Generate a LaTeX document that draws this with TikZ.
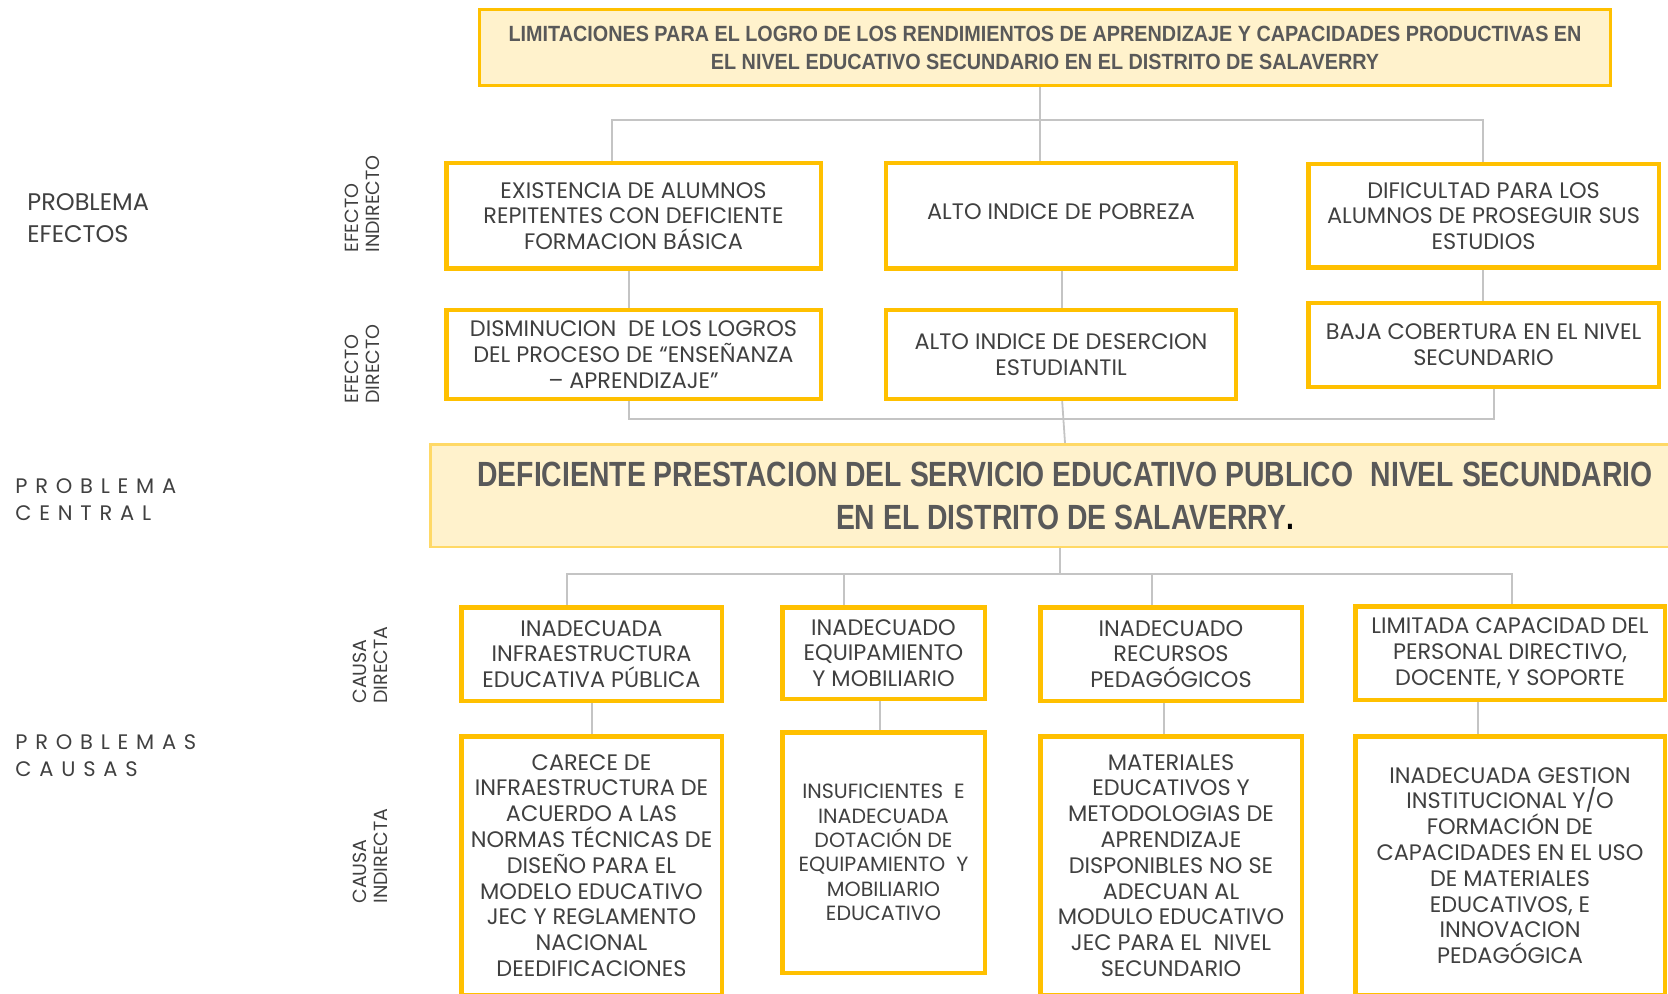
\documentclass[tikz,border=0pt]{standalone}
\usepackage{fontspec}
\setmainfont{Poppins}
\newfontfamily\gothic{Poppins}
\newfontfamily\topfont[FakeStretch=0.9]{Liberation Sans}
\newfontfamily\bigfont[FakeStretch=0.81]{Liberation Sans}
\usetikzlibrary{backgrounds}
\definecolor{ygold}{HTML}{FFC000}
\definecolor{ylight}{HTML}{FFF2CC}
\definecolor{yedge}{HTML}{FFD966}
\definecolor{lineg}{HTML}{C4C4C4}
\definecolor{txt}{HTML}{404040}
\definecolor{ttl}{HTML}{595959}
\begin{document}
\begin{tikzpicture}[x=0.5pt,y=-0.5pt,
 wh/.style n args={2}{minimum width={#1*0.5pt},minimum height={#2*0.5pt}},
 ybox/.style={draw=ygold,line width=2.25pt,fill=white,text=txt,align=center,inner sep=0pt,outer sep=0pt,font=\gothic\fontsize{11.2}{12.9}\selectfont},
 conn/.style={draw=lineg,line width=0.9pt},
 lab/.style={text=txt,align=left,inner sep=0pt,anchor=west,font=\gothic\fontsize{12}{16}\selectfont},
 spaced/.style={text=txt,align=left,inner sep=0pt,anchor=west,font=\gothic\fontsize{10.5}{13.5}\selectfont\addfontfeatures{LetterSpace=37}},
 side/.style={text=txt,align=left,inner sep=0pt,rotate=90,anchor=west,font=\gothic\fontsize{9.5}{10.5}\selectfont}
]
\useasboundingbox (0,0) rectangle (1668,994);
\clip (0,0) rectangle (1668,994);

% left labels
\node[lab] (lef) at (27,218) {PROBLEMA\\EFECTOS};
\node[spaced] (lcen) at (15,499.5) {PROBLEMA\\CENTRAL};
\node[spaced] (lcau) at (15,755.5) {PROBLEMAS\\CAUSAS};
\node[side] (sei) at (362,253) {EFECTO\\INDIRECTO};
\node[side] (sed) at (362,404) {EFECTO\\DIRECTO};
\node[side] (scd) at (370,704) {CAUSA\\DIRECTA};
\node[side] (sci) at (370,904) {CAUSA\\INDIRECTA};

% top box
\node[draw=ygold,line width=1.6pt,fill=ylight,wh={1131}{76},inner sep=0pt,align=center,text=ttl,
      font=\topfont\bfseries\fontsize{11}{14}\selectfont] (top) at (1045,47.5)
 {LIMITACIONES PARA EL LOGRO DE LOS RENDIMIENTOS DE APRENDIZAJE Y CAPACIDADES PRODUCTIVAS EN\\EL NIVEL EDUCATIVO SECUNDARIO EN EL DISTRITO DE SALAVERRY};

% effects
\node[ybox,wh={374.5}{105.5}] (e1) at (633.5,216) {EXISTENCIA DE ALUMNOS\\REPITENTES CON DEFICIENTE\\FORMACION BÁSICA};
\node[ybox,wh={350}{105.5}] (e2) at (1061,216) {ALTO INDICE DE POBREZA\\[-8.6pt]};
\node[ybox,wh={350.5}{103.5}] (e3) at (1483.5,216) {DIFICULTAD PARA LOS\\ALUMNOS DE PROSEGUIR SUS\\ESTUDIOS};
\node[ybox,wh={374.5}{88.5}] (d1) at (633.5,354.5) {DISMINUCION\ \ DE LOS LOGROS\\DEL PROCESO DE “ENSEÑANZA\\– APRENDIZAJE”};
\node[ybox,wh={350}{88.5}] (d2) at (1061,354.5) {ALTO INDICE DE DESERCION\\ESTUDIANTIL};
\node[ybox,wh={350.5}{83.5}] (d3) at (1483.5,345) {BAJA COBERTURA EN EL NIVEL\\SECUNDARIO};

% central
\node[draw=yedge,line width=1.25pt,fill=ylight,wh={1269.5}{102.5},inner sep=0pt,align=center,text=ttl,
      font=\bigfont\bfseries\fontsize{17.5}{21.5}\selectfont] (cen) at (1065,495.5)
 {DEFICIENTE PRESTACION DEL SERVICIO EDUCATIVO PUBLICO\hspace{0.5em}NIVEL SECUNDARIO\\EN EL DISTRITO DE SALAVERRY{\color{black}.}};

% causes
\node[ybox,wh={260.5}{93.5}] (c1) at (591.5,654) {INADECUADA\\INFRAESTRUCTURA\\EDUCATIVA PÚBLICA};
\node[ybox,wh={202.5}{91.5}] (c2) at (883.5,653) {INADECUADO\\EQUIPAMIENTO\\Y MOBILIARIO};
\node[ybox,wh={261.5}{93.5}] (c3) at (1171,654) {INADECUADO\\RECURSOS\\PEDAGÓGICOS};
\node[ybox,wh={309.5}{93.5}] (c4) at (1510,653) {LIMITADA CAPACIDAD DEL\\PERSONAL DIRECTIVO,\\DOCENTE, Y SOPORTE};

\node[ybox,wh={260.5}{258.5}] (i1) at (591.5,865.5) {CARECE DE\\INFRAESTRUCTURA DE\\ACUERDO A LAS\\NORMAS TÉCNICAS DE\\DISEÑO PARA EL\\MODELO EDUCATIVO\\JEC Y REGLAMENTO\\NACIONAL\\DEEDIFICACIONES};
\node[ybox,wh={202.5}{240.5},font=\gothic\fontsize{10.3}{12.2}\selectfont] (i2) at (883.5,852.5) {INSUFICIENTES\ \ E\\INADECUADA\\DOTACIÓN DE\\EQUIPAMIENTO\ \ Y\\MOBILIARIO\\EDUCATIVO};
\node[ybox,wh={261.5}{258.5}] (i3) at (1171,865.5) {MATERIALES\\EDUCATIVOS Y\\METODOLOGIAS DE\\APRENDIZAJE\\DISPONIBLES NO SE\\ADECUAN AL\\MODULO EDUCATIVO\\JEC PARA EL\ \ NIVEL\\SECUNDARIO};
\node[ybox,wh={309.5}{258.5}] (i4) at (1510,865.5) {INADECUADA GESTION\\INSTITUCIONAL Y/O\\FORMACIÓN DE\\CAPACIDADES EN EL USO\\DE MATERIALES\\EDUCATIVOS, E\\INNOVACION\\PEDAGÓGICA};

% connectors
\begin{scope}[on background layer]
\coordinate (tb) at (1040,120);
\coordinate (tb1) at (612,120);
\coordinate (tb3) at (1483,120);
\draw[conn] (top.south -| tb) -- (tb) -- (e2.north -| tb);
\draw[conn] (e1.north -| tb1) -- (tb1) -- (tb3) -- (e3.north -| tb3);
\coordinate (m1) at (629,300);
\coordinate (m2) at (1062,300);
\coordinate (m3) at (1483,300);
\draw[conn] (e1.south -| m1) -- (d1.north -| m1);
\draw[conn] (e2.south -| m2) -- (d2.north -| m2);
\draw[conn] (e3.south -| m3) -- (d3.north -| m3);
\coordinate (bb1) at (629,419);
\coordinate (bb3) at (1494,419);
\coordinate (bc) at (1065,419);
\draw[conn] (d1.south -| bb1) -- (bb1) -- (bb3) -- (d3.south -| bb3);
\draw[conn] (d2.south -| m2) -- (cen.north -| bc);
\coordinate (cb) at (1060,574);
\coordinate (cb1) at (567,574);
\coordinate (cb2) at (844,574);
\coordinate (cb3) at (1152,574);
\coordinate (cb4) at (1512,574);
\draw[conn] (cen.south -| cb) -- (cb);
\draw[conn] (c1.north -| cb1) -- (cb1) -- (cb4) -- (c4.north -| cb4);
\draw[conn] (cb2) -- (c2.north -| cb2);
\draw[conn] (cb3) -- (c3.north -| cb3);
\coordinate (k1) at (592,720);
\coordinate (k2) at (880,720);
\coordinate (k3) at (1164,720);
\coordinate (k4) at (1478,720);
\draw[conn] (c1.south -| k1) -- (i1.north -| k1);
\draw[conn] (c2.south -| k2) -- (i2.north -| k2);
\draw[conn] (c3.south -| k3) -- (i3.north -| k3);
\draw[conn] (c4.south -| k4) -- (i4.north -| k4);
\end{scope}
\end{tikzpicture}
\end{document}
